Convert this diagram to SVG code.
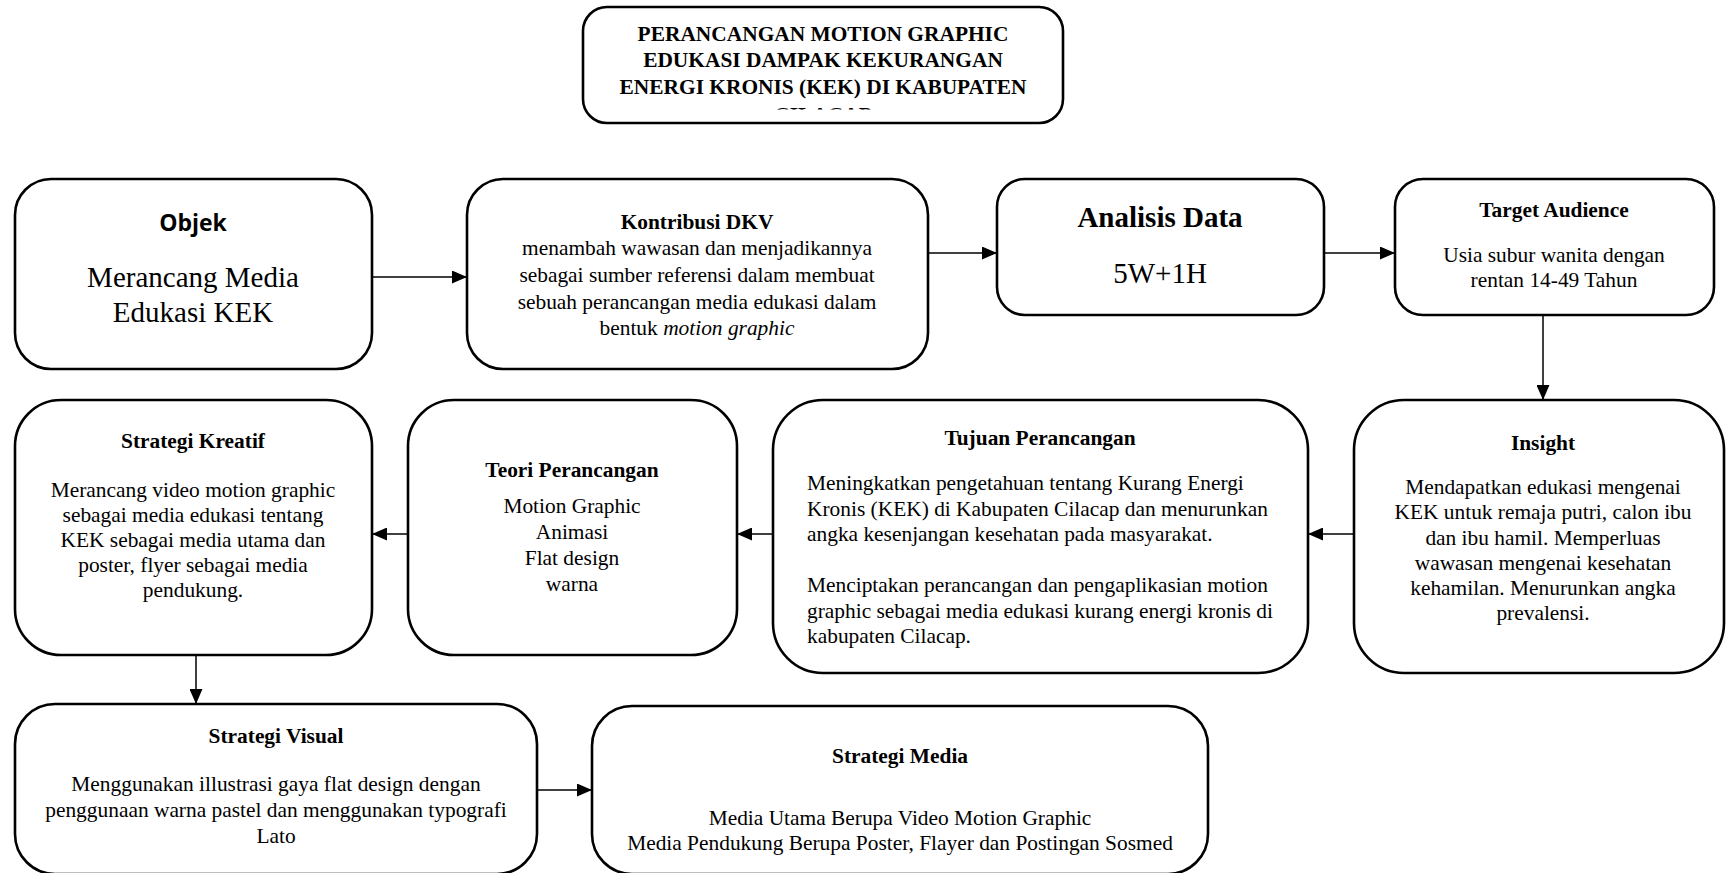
<svg xmlns="http://www.w3.org/2000/svg" width="1726" height="873" viewBox="0 0 1726 873">
<style>
.box{fill:#fff;stroke:#000;stroke-width:2.6}
.t{font-family:"Liberation Serif","Times New Roman",serif;font-size:21.4px;fill:#000}
.c{text-anchor:middle}
.b{font-weight:bold}
.big{font-size:29px}
.con{stroke:#000;stroke-width:1.5;fill:none;marker-end:url(#ah)}
</style>
<defs>
<marker id="ah" markerWidth="15" markerHeight="13" refX="14" refY="6.5" orient="auto" markerUnits="userSpaceOnUse">
<path d="M0,0 L15,6.5 L0,13 Z" fill="#000"/>
</marker>
<clipPath id="titleclip"><rect x="582" y="0" width="482" height="109.5"/></clipPath>
</defs>
<rect width="1726" height="873" fill="#fff"/>

<g id="title">
<rect class="box" x="583" y="7" width="480" height="116" rx="24"/>
<g clip-path="url(#titleclip)">
<text class="t c b" x="823" y="41">PERANCANGAN MOTION GRAPHIC</text>
<text class="t c b" x="823" y="67">EDUKASI DAMPAK KEKURANGAN</text>
<text class="t c b" x="823" y="93.5">ENERGI KRONIS (KEK) DI KABUPATEN</text>
<text class="t c b" x="823" y="121.5">CILACAP</text>
</g>
</g>

<g id="objek">
<rect class="box" x="15" y="179" width="357" height="190" rx="36"/>
<text x="193" y="231" text-anchor="middle" font-family="'Open Sans','Liberation Sans',sans-serif" font-weight="bold" font-size="23">Objek</text>
<text class="t c big" x="193" y="287">Merancang Media</text>
<text class="t c big" x="193" y="322">Edukasi KEK</text>
</g>

<g id="kontribusi">
<rect class="box" x="467" y="179" width="461" height="190" rx="36"/>
<text class="t c b" x="697" y="229">Kontribusi DKV</text>
<text class="t c" x="697" y="255">menambah wawasan dan menjadikannya</text>
<text class="t c" x="697" y="282">sebagai sumber referensi dalam membuat</text>
<text class="t c" x="697" y="308.5">sebuah perancangan media edukasi dalam</text>
<text class="t c" x="697" y="335">bentuk <tspan font-style="italic">motion graphic</tspan></text>
</g>

<g id="analisis">
<rect class="box" x="997" y="179" width="327" height="136" rx="28"/>
<text class="t c b big" x="1160" y="227">Analisis Data</text>
<text class="t c big" x="1160" y="283">5W+1H</text>
</g>

<g id="target">
<rect class="box" x="1395" y="179" width="319" height="136" rx="28"/>
<text class="t c b" x="1554" y="217">Target Audience</text>
<text class="t c" x="1554" y="262">Usia subur wanita dengan</text>
<text class="t c" x="1554" y="287">rentan 14-49 Tahun</text>
</g>

<g id="insight">
<rect class="box" x="1354" y="400" width="370" height="273" rx="50"/>
<text class="t c b" x="1543" y="450">Insight</text>
<text class="t c" x="1543" y="494">Mendapatkan edukasi mengenai</text>
<text class="t c" x="1543" y="519">KEK untuk remaja putri, calon ibu</text>
<text class="t c" x="1543" y="544.5">dan ibu hamil. Memperluas</text>
<text class="t c" x="1543" y="569.5">wawasan mengenai kesehatan</text>
<text class="t c" x="1543" y="594.5">kehamilan. Menurunkan angka</text>
<text class="t c" x="1543" y="620">prevalensi.</text>
</g>

<g id="tujuan">
<rect class="box" x="773" y="400" width="535" height="273" rx="50"/>
<text class="t c b" x="1040" y="445">Tujuan Perancangan</text>
<text class="t" x="807" y="490">Meningkatkan pengetahuan tentang Kurang Energi</text>
<text class="t" x="807" y="515.5">Kronis (KEK) di Kabupaten Cilacap dan menurunkan</text>
<text class="t" x="807" y="541">angka kesenjangan kesehatan pada masyarakat.</text>
<text class="t" x="807" y="592">Menciptakan perancangan dan pengaplikasian motion</text>
<text class="t" x="807" y="617.5">graphic sebagai media edukasi kurang energi kronis di</text>
<text class="t" x="807" y="643">kabupaten Cilacap.</text>
</g>

<g id="teori">
<rect class="box" x="408" y="400" width="329" height="255" rx="46"/>
<text class="t c b" x="572" y="477">Teori Perancangan</text>
<text class="t c" x="572" y="513">Motion Graphic</text>
<text class="t c" x="572" y="539">Animasi</text>
<text class="t c" x="572" y="565">Flat design</text>
<text class="t c" x="572" y="591">warna</text>
</g>

<g id="kreatif">
<rect class="box" x="15" y="400" width="357" height="255" rx="46"/>
<text class="t c b" x="193" y="448">Strategi Kreatif</text>
<text class="t c" x="193" y="497">Merancang video motion graphic</text>
<text class="t c" x="193" y="522">sebagai media edukasi tentang</text>
<text class="t c" x="193" y="547">KEK sebagai media utama dan</text>
<text class="t c" x="193" y="572">poster, flyer sebagai media</text>
<text class="t c" x="193" y="597">pendukung.</text>
</g>

<g id="visual">
<rect class="box" x="15" y="704" width="522" height="170" rx="40"/>
<text class="t c b" x="276" y="743">Strategi Visual</text>
<text class="t c" x="276" y="791">Menggunakan illustrasi gaya flat design dengan</text>
<text class="t c" x="276" y="817">penggunaan warna pastel dan menggunakan typografi</text>
<text class="t c" x="276" y="843">Lato</text>
</g>

<g id="media">
<rect class="box" x="592" y="706" width="616" height="168" rx="40"/>
<text class="t c b" x="900" y="763">Strategi Media</text>
<text class="t c" x="900" y="825">Media Utama Berupa Video Motion Graphic</text>
<text class="t c" x="900" y="850">Media Pendukung Berupa Poster, Flayer dan Postingan Sosmed</text>
</g>

<g id="connectors">
<line class="con" x1="372" y1="277" x2="466" y2="277"/>
<line class="con" x1="928" y1="253" x2="996" y2="253"/>
<line class="con" x1="1324" y1="253" x2="1394" y2="253"/>
<line class="con" x1="1543" y1="315" x2="1543" y2="399"/>
<line class="con" x1="1354" y1="534" x2="1309" y2="534"/>
<line class="con" x1="773" y1="534" x2="738" y2="534"/>
<line class="con" x1="408" y1="534" x2="373" y2="534"/>
<line class="con" x1="196" y1="655" x2="196" y2="703"/>
<line class="con" x1="537" y1="790" x2="591" y2="790"/>
</g>
</svg>
